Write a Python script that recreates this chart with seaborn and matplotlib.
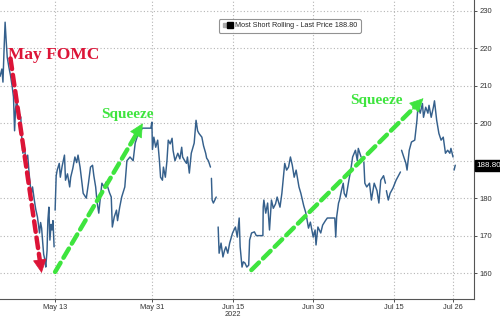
import numpy as np
import pandas as pd
import matplotlib
matplotlib.use("Agg")
import matplotlib.pyplot as plt
import matplotlib.dates as mdates
import seaborn as sns
from matplotlib.lines import Line2D
from matplotlib.legend_handler import HandlerTuple

# ---- data: days offset from 2022-05-13 and price; None marks a gap ----
day_offset = [
    -10.25, -9.9, -9.7, -9.5, -9.3, -9.1, -8.9, -8.6, -8.3, -8.0, -7.74, -7.54, -7.35, -7.16,
    -6.8, -6.38, -6.2, -6.0, -5.7, -5.42, -5.1, -4.84, -4.45, -4.2, -3.87, -3.6, -3.29, -2.9,
    -2.7, -2.51, -2.3, -2.13, -1.9, -1.74, -1.5, -1.35, -1.16, -0.97, -0.75, -0.58, -0.4, -0.19,
    None,
    0.0, 0.2, 0.39, 0.77, 0.97, 1.3, 1.74, 1.93, 2.3, 2.71, 2.9, 3.3, 3.68, 4.0, 4.26, 4.64,
    5.0, 5.22, 5.8, 6.2, 6.58, 6.96, 7.2, 7.54, 7.8, 8.12, 8.4, 8.7, 9.1, 9.48, 9.67, 10.1,
    10.44, 10.64, 11.0, 11.41, 11.61, 12.0, 12.38, 12.96, 13.35, 13.93, 14.51, 14.89, 15.47,
    16.25, 16.83, 17.79, 18.0, 18.1, 18.36, 18.71, 19.07, 19.4, 19.61, 19.96, 20.14, 20.5,
    20.8, 21.04, 21.4, 21.75, 21.93, 22.29, 22.82, 23.2, 23.54, 23.71, 24.1, 24.43, 24.61,
    24.96, 25.32, 25.86, 26.21, 26.5, 26.75, 27.29, 27.6, 28.0, 28.18, 28.5, 28.89,
    None,
    29.07, 29.2, 29.43, 29.7, 29.96,
    None,
    30.32, 30.5, 30.86, 31.21, 31.5, 31.75, 32.11, 32.46, 33.0, 33.53, 33.88, 34.23, 34.41,
    34.76, 35.0, 35.29, 35.65, 36.0, 36.17, 36.53, 37.06, 37.41, 38.64, 38.7, 38.82, 39.17,
    39.52, 39.87, 40.23, 40.58, 41.0, 41.29, 41.82, 42.17, 42.35, 42.7, 43.05, 43.41, 43.76,
    44.11, 44.46, 44.82, 45.35, 45.7, 46.23, 46.58, 46.76, 47.12, 47.47, 48.0, 48.35, 48.52,
    48.87, 49.4, 49.75, 50.27, 50.62, 52.01, 52.19, 52.36, 52.71, 52.89, 53.24, 53.58, 53.76,
    54.11, 54.63, 54.98, 55.33, 55.85, 56.2, 56.38, 56.9,
    None,
    57.42, 57.6, 57.95, 58.47, 58.82, 59.34, 59.86, 60.21, 60.56, 61.08, 61.43,
    None,
    61.61, 61.96, 62.3, 62.83, 63.41, 64.22,
    None,
    64.43, 64.84, 65.24, 65.45, 65.86, 66.27, 66.88, 67.29, 67.49, 67.9, 68.31, 68.51, 68.92,
    69.33, 69.53, 69.94, 70.35, 70.55, 70.96, 71.37, 71.78, 72.18, 72.59, 73.0, 73.41, 73.61,
    74.0,
    None,
    74.2, 74.41,
]
price = [
    212.5, 214.5, 211.0, 219.5, 227.0, 222.0, 217.6, 215.0, 212.8, 210.0, 207.0, 198.0, 204.0, 206.0,
    203.0, 201.6, 196.0, 192.0, 193.5, 190.0, 191.5, 186.7, 181.0, 183.0, 179.5, 177.0, 175.0, 170.7,
    173.5, 172.0, 168.0, 165.0, 163.5, 161.6, 166.0, 174.0, 177.6, 168.8, 173.0, 171.5, 174.0, 167.0,
    None,
    176.8, 186.0, 187.5, 189.3, 185.6, 188.5, 191.5, 184.8, 186.5, 183.0, 185.6, 188.0, 191.0, 189.5, 191.5, 188.3,
    184.0, 181.3, 180.0, 184.0, 188.3, 188.8, 186.0, 183.0, 179.0, 176.0, 180.0, 184.0, 183.0, 184.3, 183.5, 181.5,
    180.3, 172.3, 175.0, 176.8, 174.0, 177.5, 180.3, 183.0, 190.0, 191.0, 190.0, 194.7, 197.3,
    198.7, 198.7, 198.7, 200.3, 193.0, 196.3, 193.6, 195.5, 190.0, 185.6, 184.8, 188.3, 185.6,
    190.0, 195.5, 194.5, 196.0, 192.8, 190.0, 192.0, 190.5, 193.6, 191.0, 190.0, 189.3, 191.0,
    186.7, 192.0, 194.7, 200.8, 198.0, 197.3, 196.3, 194.0, 192.0, 190.7, 190.0, 188.3,
    None,
    185.3, 179.5, 178.7, 179.5, 180.3,
    None,
    172.3, 165.3, 168.0, 164.3, 166.0, 167.0, 165.3, 168.0, 170.7, 172.3, 169.6, 174.7, 167.0,
    161.6, 163.0, 162.7, 161.6, 162.1, 168.8, 170.7, 171.0, 170.0, 170.0, 177.6, 179.5, 176.0,
    178.7, 171.5, 179.5, 177.3, 178.5, 180.3, 177.6, 181.3, 184.0, 189.3, 187.5, 188.3, 191.0,
    188.8, 185.6, 187.5, 183.0, 181.3, 178.0, 176.3, 175.0, 172.0, 173.6, 169.6, 171.5, 167.5,
    172.3, 170.7, 172.8, 174.0, 174.7, 174.7, 169.6, 175.0, 178.7, 179.5, 182.0, 184.0, 181.3,
    180.3, 184.8, 187.5, 191.0, 192.8, 190.0, 193.3, 191.0,
    None,
    189.6, 184.0, 183.0, 184.0, 179.5, 184.0, 182.0, 178.7, 184.8, 186.0, 184.0,
    None,
    182.0, 179.5, 181.3, 182.7, 184.8, 187.0,
    None,
    192.8, 191.0, 189.3, 187.5, 192.8, 195.0, 195.5, 200.8, 204.8, 202.7, 205.3, 201.6, 204.3,
    202.7, 204.8, 201.6, 204.3, 206.0, 200.8, 197.3, 195.5, 196.3, 192.0, 192.8, 192.0, 193.3,
    191.0,
    None,
    187.5, 188.8,
]

series_name = "Most Short Rolling - Last Price 188.80"
last_price = 188.80
tick_dates = ["2022-05-13", "2022-05-31", "2022-06-15", "2022-06-30", "2022-07-15", "2022-07-26"]
tick_labels = ["May 13", "May 31", "Jun 15\n2022", "Jun 30", "Jul 15", "Jul 26"]
minor_dates = ["2022-05-05", "2022-05-21", "2022-06-08", "2022-06-22", "2022-07-08", "2022-07-22"]
y_ticks = [160, 170, 180, 190, 200, 210, 220, 230]

base = pd.Timestamp("2022-05-13")

# build segments
rows = []
seg = 0
for d, p in zip(day_offset, price):
    if d is None:
        seg += 1
        continue
    rows.append({"date": base + pd.to_timedelta(d, unit="D"), "price": p, "seg": seg})
df = pd.DataFrame(rows)

def dt(days):
    return mdates.date2num(base + pd.to_timedelta(days, unit="D"))

sns.set_style("white")
plt.rcParams["font.family"] = ["Liberation Sans", "DejaVu Sans"]

fig = plt.figure(figsize=(5.0, 3.17), dpi=100)
ax = fig.add_axes([0.0, 1 - 299 / 317, 474 / 500, 299 / 317])

sns.lineplot(data=df, x="date", y="price", units="seg", estimator=None,
             color="#35608c", linewidth=1.05, ax=ax, legend=False, zorder=3)

ax.set_xlim(dt(-10.25), dt(77.9))
ax.set_ylim(153.07, 232.93)

# axes styling
ax.yaxis.tick_right()
ax.set_yticks(y_ticks)
ax.set_yticklabels([str(v) if v != 190 else "" for v in y_ticks])
ax.set_xticks([mdates.date2num(pd.Timestamp(t)) for t in tick_dates])
ax.set_xticklabels(tick_labels, linespacing=0.95)
ax.set_xticks([mdates.date2num(pd.Timestamp(t)) for t in minor_dates], minor=True)
ax.tick_params(axis="y", labelsize=5.5, colors="#333333", length=2.5, width=0.6, pad=1.5)
ax.tick_params(axis="x", labelsize=5.3, colors="#333333", length=2.5, width=0.6, pad=1.0)
ax.tick_params(axis="x", which="minor", length=2, width=0.6, color="#555555")
ax.tick_params(axis="y", right=True, left=False, labelright=True, labelleft=False)
ax.tick_params(axis="x", bottom=True, direction="out")
ax.set_xlabel("")
ax.set_ylabel("")
for s in ["top", "left"]:
    ax.spines[s].set_visible(False)
for s in ["right", "bottom"]:
    ax.spines[s].set_color("#555555")
    ax.spines[s].set_linewidth(0.8)
ax.grid(True, which="major", color="#b5b5b5", linestyle=(0, (1, 2)), linewidth=0.8)

# legend
h = (Line2D([], [], marker="s", color="#aaaaaa", ms=2.5, ls=""),
     Line2D([], [], marker="s", color="black", ms=4.5, ls=""))
leg = ax.legend([h], [series_name], handler_map={tuple: HandlerTuple(ndivide=None, pad=0.1)},
                loc="upper left", bbox_to_anchor=(0.462, 0.936), borderaxespad=0,
                fontsize=5.2, frameon=True, fancybox=True, handlelength=1.4, handletextpad=0.4,
                borderpad=0.45)
leg.get_frame().set_edgecolor("#777777")
leg.get_frame().set_linewidth(0.8)

# last price tag
ax.text(1.006, last_price, f"{last_price:.2f}", transform=ax.get_yaxis_transform(),
        ha="left", va="center", fontsize=5.8, color="white", clip_on=False, zorder=10,
        bbox=dict(boxstyle="square,pad=0.25", fc="black", ec="black"))

# annotations
def dashed_arrow(start, tip, color):
    ax.annotate("", xy=tip, xytext=start,
                arrowprops=dict(arrowstyle="-", color=color, lw=3.2, linestyle=(0, (2.4, 1.3)),
                                shrinkA=0, shrinkB=5), zorder=6)
    near = (tip[0] - 0.08 * (tip[0] - start[0]), tip[1] - 0.08 * (tip[1] - start[1]))
    ax.annotate("", xy=tip, xytext=near,
                arrowprops=dict(arrowstyle="-|>,head_length=0.9,head_width=0.45", color=color,
                                lw=0.5, shrinkA=0, shrinkB=0), zorder=6)

red = "#dc1437"
green = "#3ee43e"
dashed_arrow((dt(-8.3), 217.3), (dt(-2.5), 160.0), red)
dashed_arrow((dt(0.0), 160.3), (dt(16.3), 200.0), green)
dashed_arrow((dt(36.5), 160.8), (dt(68.5), 206.7), green)

ax.text(dt(-8.7), 218.3, "May FOMC", color=red, fontsize=12.5, fontweight="bold",
        family="Liberation Serif", ha="left", va="center", zorder=7)
ax.text(dt(13.5), 202.4, "Squeeze", color=green, fontsize=11, fontweight="bold",
        family="Liberation Serif", ha="center", va="center", zorder=7)
ax.text(dt(59.7), 206.2, "Squeeze", color=green, fontsize=11, fontweight="bold",
        family="Liberation Serif", ha="center", va="center", zorder=7)

fig.savefig("out.png", dpi=100)
